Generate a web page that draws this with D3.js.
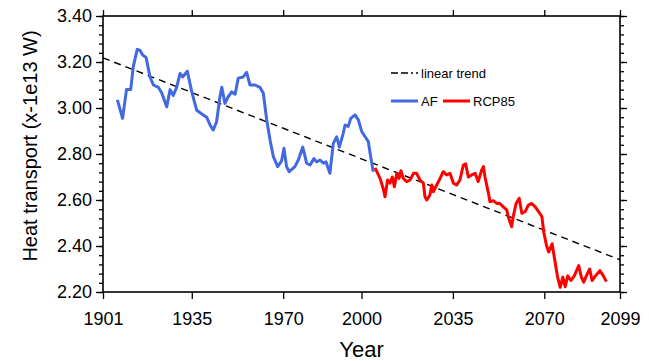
<!DOCTYPE html>
<html>
<head>
<meta charset="utf-8">
<script src="https://cdn.jsdelivr.net/npm/d3@7"></script>
<style>
  html, body { margin: 0; padding: 0; background: #fff; }
  svg { display: block; font-family: "Liberation Sans", Arial, Helvetica, sans-serif; }
</style>
</head>
<body>
<svg id="chart" width="649" height="361"></svg>
<script>
// Historical (AF) series
const afYears = [1906.5, 1908.5, 1910, 1911.6, 1912.6, 1914.1, 1915.2, 1916.2, 1917.5, 1919,
  1920.3, 1922.2, 1923.5, 1925.4, 1926.7, 1927.9, 1929.2, 1930.5, 1931.5, 1933.3,
  1935, 1936.9, 1939.4, 1940.7, 1942, 1943.2, 1944.5, 1945.8, 1946.5, 1947.7,
  1949, 1950.3, 1951.6, 1952.8, 1954.7, 1956, 1957.3, 1959.2, 1961.1, 1962.4,
  1963.7, 1965, 1966.2, 1967.9, 1969.4, 1970.3, 1971.3, 1972.3, 1974.5, 1975.8,
  1977.5, 1979, 1980.3, 1981.8, 1982.8, 1984.1, 1985.4, 1986.4, 1987.9, 1989.2,
  1990.5, 1991.5, 1993, 1993.7, 1994.9, 1995.9, 1997.5, 1998.8, 2000.1, 2001.4,
  2002.6, 2003.3, 2004.5];
const afValues = [3.035, 2.955, 3.08, 3.08, 3.18, 3.255, 3.25, 3.23, 3.22, 3.135,
  3.10, 3.09, 3.065, 3.005, 3.08, 3.055, 3.09, 3.15, 3.135, 3.16,
  3.07, 2.99, 2.97, 2.96, 2.926, 2.904, 2.94, 3.05, 3.09, 3.02,
  3.05, 3.07, 3.06, 3.13, 3.135, 3.155, 3.10, 3.10, 3.09, 3.064,
  2.948, 2.86, 2.79, 2.745, 2.77, 2.825, 2.745, 2.723, 2.745, 2.774,
  2.83, 2.76, 2.752, 2.78, 2.766, 2.774, 2.76, 2.766, 2.716, 2.846,
  2.875, 2.83, 2.89, 2.926, 2.92, 2.955, 2.97, 2.948, 2.897, 2.875,
  2.854, 2.803, 2.723];

// Scenario (RCP85) series
const rcpYears = [2005.2, 2007.1, 2008.3, 2009, 2010, 2010.9, 2011.8, 2012.6, 2013.5, 2014.4,
  2015.1, 2016, 2017.3, 2018.6, 2019.9, 2021.1, 2022.4, 2023.7, 2024.3, 2025,
  2026.2, 2026.9, 2027.5, 2028.8, 2030.1, 2031.3, 2032.6, 2033.9, 2035.2, 2036.4,
  2037.7, 2039, 2039.9, 2040.9, 2042.2, 2043.5, 2044.7, 2046, 2046.7, 2047.3,
  2048.6, 2049.2, 2050.5, 2051.8, 2053, 2054.3, 2055.6, 2056.2, 2057.5, 2058.1,
  2059.2, 2060.4, 2061.4, 2062.7, 2063.9, 2065.2, 2066.5, 2067.8, 2069.1, 2069.8,
  2070.9, 2071.7, 2073, 2074.2, 2075.1, 2076.1, 2077.1, 2078, 2079, 2080.2,
  2081.5, 2083.2, 2084.2, 2085.1, 2086.1, 2087.4, 2088.3, 2089.6, 2091.3, 2092.6,
  2093.8];
const rcpValues = [2.74, 2.694, 2.65, 2.614, 2.687, 2.673, 2.70, 2.658, 2.716, 2.694,
  2.727, 2.694, 2.68, 2.687, 2.716, 2.716, 2.687, 2.673, 2.614, 2.60,
  2.622, 2.665, 2.636, 2.665, 2.694, 2.723, 2.709, 2.716, 2.673, 2.665,
  2.687, 2.752, 2.757, 2.70, 2.709, 2.716, 2.68, 2.73, 2.745, 2.70,
  2.63, 2.593, 2.597, 2.585, 2.585, 2.57, 2.557, 2.527, 2.484, 2.527,
  2.585, 2.607, 2.542, 2.55, 2.578, 2.585, 2.57, 2.55, 2.527, 2.46,
  2.40, 2.374, 2.41, 2.326, 2.265, 2.22, 2.265, 2.223, 2.27, 2.25,
  2.27, 2.315, 2.265, 2.243, 2.27, 2.30, 2.25, 2.27, 2.293, 2.27,
  2.245];

// Linear trend end points
const trendYears = [1901, 2099];
const trendValues = [3.218, 2.34];

// Axis ticks
const xTicks = [1901, 1935, 1970, 2000, 2035, 2070, 2099];
const yTicks = [2.2, 2.4, 2.6, 2.8, 3.0, 3.2, 3.4];
const yMinorTicks = d3.range(2.2, 3.4001, 0.04);

const plotLeft = 103, plotRight = 620, plotTop = 16, plotBottom = 292;

const svg = d3.select("#chart");
const x = d3.scaleLinear().domain([1901, 2099]).range([plotLeft, plotRight]);
const y = d3.scaleLinear().domain([2.2, 3.4]).range([plotBottom, plotTop]);

const line = d3.line().x(d => x(d[0])).y(d => y(d[1])).curve(d3.curveLinear);

// Trend line
svg.append("path")
  .datum(d3.zip(trendYears, trendValues))
  .attr("d", line)
  .attr("fill", "none")
  .attr("stroke", "#000")
  .attr("stroke-width", 1.4)
  .attr("stroke-dasharray", "7,5");

// Data series
svg.append("path")
  .datum(d3.zip(afYears, afValues))
  .attr("d", line)
  .attr("fill", "none")
  .attr("stroke", "#4169e1")
  .attr("stroke-width", 3)
  .attr("stroke-linejoin", "round");

svg.append("path")
  .datum(d3.zip(rcpYears, rcpValues))
  .attr("d", line)
  .attr("fill", "none")
  .attr("stroke", "#ff0000")
  .attr("stroke-width", 3)
  .attr("stroke-linejoin", "round");

// Axes
const axisStyle = g => {
  g.select(".domain").remove();
  g.selectAll(".tick line").attr("stroke", "#000").attr("stroke-width", 1.3);
  g.selectAll(".tick text").attr("font-size", 18).attr("fill", "#000")
    .attr("font-family", "Liberation Sans, Arial, sans-serif");
};

svg.append("g")
  .attr("transform", `translate(0,${plotBottom})`)
  .call(d3.axisBottom(x).tickValues(xTicks).tickFormat(d3.format("d")).tickSize(7).tickPadding(13))
  .call(axisStyle);

svg.append("g")
  .attr("transform", `translate(0,${plotTop})`)
  .call(d3.axisTop(x).tickValues(xTicks).tickFormat("").tickSize(6))
  .call(axisStyle);

svg.append("g")
  .attr("transform", `translate(${plotLeft},0)`)
  .call(d3.axisLeft(y).tickValues(yTicks).tickFormat(d3.format(".2f")).tickSize(7).tickPadding(4))
  .call(axisStyle);

svg.append("g")
  .attr("transform", `translate(${plotLeft},0)`)
  .call(d3.axisLeft(y).tickValues(yMinorTicks).tickFormat("").tickSize(4))
  .call(axisStyle);

svg.append("g")
  .attr("transform", `translate(${plotRight},0)`)
  .call(d3.axisRight(y).tickValues(yTicks).tickFormat("").tickSize(7))
  .call(axisStyle);

svg.append("g")
  .attr("transform", `translate(${plotRight},0)`)
  .call(d3.axisRight(y).tickValues(yMinorTicks).tickFormat("").tickSize(4))
  .call(axisStyle);

// Frame
svg.append("rect")
  .attr("x", plotLeft).attr("y", plotTop)
  .attr("width", plotRight - plotLeft).attr("height", plotBottom - plotTop)
  .attr("fill", "none").attr("stroke", "#000").attr("stroke-width", 1.6);

// Axis titles
svg.append("text")
  .attr("x", (plotLeft + plotRight) / 2).attr("y", 357)
  .attr("text-anchor", "middle").attr("font-size", 22)
  .text("Year");

svg.append("text")
  .attr("transform", "translate(37,146) rotate(-90)")
  .attr("text-anchor", "middle").attr("font-size", 20)
  .text("Heat transport (x-1e13 W)");

// Legend
const legend = svg.append("g").attr("font-size", 13);
legend.append("line")
  .attr("x1", 391).attr("x2", 418).attr("y1", 73).attr("y2", 73)
  .attr("stroke", "#000").attr("stroke-width", 1.4).attr("stroke-dasharray", "7,3,7,3,2,3");
legend.append("text").attr("x", 421).attr("y", 78).text("linear trend");

legend.append("line")
  .attr("x1", 391).attr("x2", 418).attr("y1", 101).attr("y2", 101)
  .attr("stroke", "#4169e1").attr("stroke-width", 3);
legend.append("text").attr("x", 421).attr("y", 106).text("AF");

legend.append("line")
  .attr("x1", 443).attr("x2", 470).attr("y1", 101).attr("y2", 101)
  .attr("stroke", "#ff0000").attr("stroke-width", 3);
legend.append("text").attr("x", 473).attr("y", 106).text("RCP85");
</script>
</body>
</html>
